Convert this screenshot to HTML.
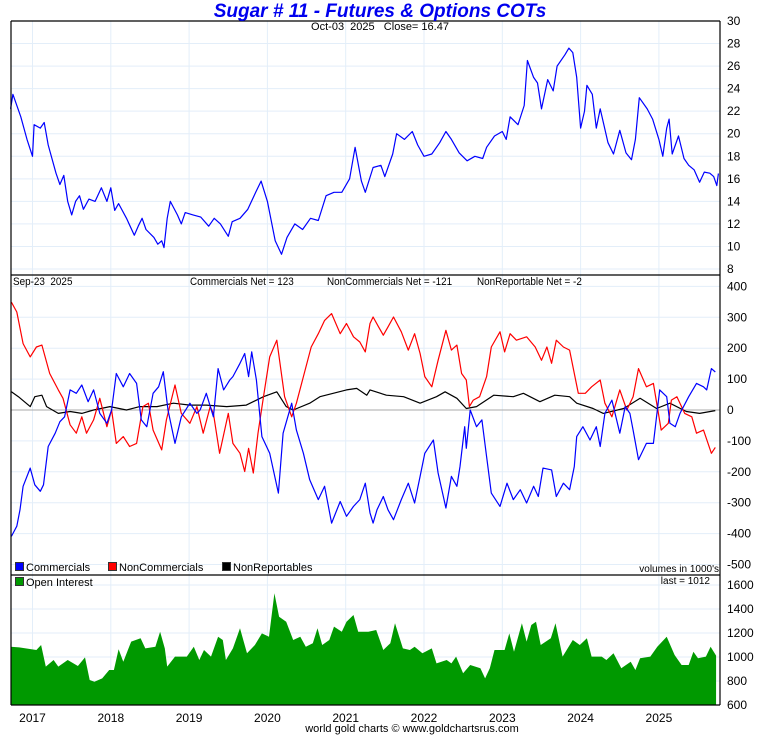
<!DOCTYPE html>
<html><head><meta charset="utf-8"><style>
html,body{margin:0;padding:0;background:#fff;}
svg{display:block;font-family:"Liberation Sans Narrow","Liberation Sans",sans-serif;}
.n{transform:scaleX(0.9);transform-origin:left top;white-space:pre;}
</style></head><body>
<svg id="c" width="760" height="735" viewBox="0 0 760 735"></svg>
<script>
const priceYears=[2016.72,2016.75,2016.85,2016.93,2017.0,2017.02,2017.1,2017.15,2017.2,2017.3,2017.35,2017.4,2017.45,2017.5,2017.55,2017.6,2017.65,2017.72,2017.8,2017.88,2017.95,2018.0,2018.05,2018.1,2018.2,2018.3,2018.35,2018.4,2018.45,2018.55,2018.6,2018.65,2018.68,2018.72,2018.76,2018.85,2018.9,2018.95,2019.05,2019.15,2019.25,2019.32,2019.4,2019.5,2019.55,2019.65,2019.75,2019.85,2019.92,2020.0,2020.1,2020.18,2020.25,2020.35,2020.45,2020.55,2020.65,2020.75,2020.85,2020.95,2021.05,2021.12,2021.2,2021.25,2021.35,2021.45,2021.5,2021.6,2021.65,2021.75,2021.85,2021.92,2022.0,2022.1,2022.2,2022.28,2022.35,2022.45,2022.55,2022.65,2022.75,2022.8,2022.9,2023.0,2023.05,2023.1,2023.2,2023.28,2023.32,2023.4,2023.45,2023.5,2023.58,2023.65,2023.7,2023.8,2023.85,2023.9,2023.95,2024.0,2024.05,2024.08,2024.15,2024.2,2024.25,2024.35,2024.42,2024.5,2024.58,2024.65,2024.7,2024.75,2024.85,2024.92,2025.0,2025.05,2025.1,2025.13,2025.17,2025.25,2025.32,2025.38,2025.45,2025.52,2025.58,2025.65,2025.7,2025.74,2025.76];
const priceValues=[22.2,23.5,21.5,19.5,18,20.8,20.5,21,19,16.5,15.5,16.3,14,12.8,14,14.5,13.3,14.2,14,15.2,14,15.2,13.2,13.8,12.5,11,11.8,12.5,11.5,10.8,10.2,10.5,9.9,12.5,14,12.8,12,13,12.8,12.6,11.8,12.5,12,10.9,12.2,12.5,13.3,14.8,15.8,14,10.5,9.3,10.8,12,11.5,12.5,12.3,14.5,14.8,14.8,16,18.8,15.8,14.8,17,17.2,16.2,18.2,20,19.5,20.2,19,18,18.2,19.2,20.2,19.5,18.3,17.6,18,17.8,18.8,19.8,20.2,19.5,21.5,20.8,22.5,26.5,25,24.5,22.2,24.8,23.8,26,27,27.6,27.2,25,20.5,22,24.3,23.5,20.5,22.2,19.2,18.2,20.3,18.3,17.7,19.5,23.2,22.2,21.3,19.5,18,20.5,21.3,18.2,19.8,17.8,17.2,16.8,15.7,16.6,16.5,16.2,15.4,16.47];
const priceTicks=[8,10,12,14,16,18,20,22,24,26,28,30];

const commYears=[2016.73,2016.80,2016.84,2016.88,2016.97,2017.03,2017.10,2017.14,2017.20,2017.29,2017.35,2017.41,2017.48,2017.56,2017.63,2017.71,2017.78,2017.86,2017.95,2018.01,2018.07,2018.16,2018.24,2018.33,2018.39,2018.46,2018.54,2018.61,2018.67,2018.73,2018.82,2018.90,2019.01,2019.10,2019.14,2019.22,2019.31,2019.37,2019.44,2019.52,2019.56,2019.65,2019.71,2019.76,2019.80,2019.86,2019.93,2020.03,2020.14,2020.20,2020.31,2020.37,2020.46,2020.54,2020.65,2020.73,2020.82,2020.93,2021.01,2021.10,2021.18,2021.25,2021.31,2021.35,2021.40,2021.48,2021.54,2021.61,2021.71,2021.80,2021.88,2021.95,2022.01,2022.12,2022.18,2022.28,2022.35,2022.42,2022.46,2022.52,2022.54,2022.59,2022.67,2022.74,2022.80,2022.86,2022.97,2023.06,2023.14,2023.23,2023.31,2023.40,2023.46,2023.52,2023.63,2023.69,2023.78,2023.86,2023.92,2023.95,2024.03,2024.12,2024.20,2024.25,2024.31,2024.40,2024.50,2024.57,2024.63,2024.67,2024.74,2024.84,2024.93,2025.01,2025.10,2025.14,2025.21,2025.27,2025.38,2025.48,2025.57,2025.61,2025.67,2025.72];
const commValues=[-409,-376,-323,-247,-188,-242,-263,-242,-118,-75,-38,-22,65,54,81,27,65,-11,-43,0,118,75,118,86,-32,-54,54,75,124,0,-108,-22,22,-11,0,54,-22,134,65,97,108,151,183,108,188,97,-86,-140,-269,-75,22,-65,-140,-226,-290,-247,-366,-296,-344,-312,-290,-237,-333,-366,-323,-280,-323,-355,-290,-237,-301,-215,-140,-97,-204,-317,-215,-247,-183,-54,-124,0,-54,-32,-151,-269,-312,-237,-290,-258,-301,-247,-280,-188,-194,-280,-237,-258,-183,-86,-54,-97,-54,-118,-11,32,-75,11,-11,-65,-161,-108,-108,65,43,-43,-54,-11,43,86,75,65,134,123];

const nonCommYears=[2016.73,2016.80,2016.88,2016.97,2017.05,2017.12,2017.22,2017.33,2017.39,2017.48,2017.56,2017.63,2017.69,2017.78,2017.86,2017.95,2018.01,2018.07,2018.16,2018.24,2018.33,2018.41,2018.48,2018.54,2018.65,2018.71,2018.82,2018.90,2019.01,2019.10,2019.18,2019.27,2019.31,2019.39,2019.50,2019.56,2019.65,2019.71,2019.76,2019.82,2019.88,2019.95,2020.03,2020.12,2020.22,2020.31,2020.37,2020.46,2020.56,2020.65,2020.73,2020.82,2020.93,2021.01,2021.10,2021.18,2021.25,2021.31,2021.35,2021.42,2021.48,2021.54,2021.61,2021.71,2021.80,2021.88,2021.95,2022.01,2022.10,2022.18,2022.28,2022.35,2022.42,2022.48,2022.54,2022.58,2022.63,2022.71,2022.80,2022.86,2022.97,2023.03,2023.10,2023.18,2023.31,2023.42,2023.50,2023.57,2023.63,2023.69,2023.78,2023.86,2023.97,2024.06,2024.14,2024.25,2024.31,2024.40,2024.50,2024.59,2024.67,2024.74,2024.84,2024.93,2025.03,2025.12,2025.16,2025.23,2025.33,2025.42,2025.48,2025.57,2025.67,2025.72];
const nonCommValues=[349,317,215,172,204,210,118,65,38,-48,-75,-22,-75,-32,38,-54,0,-108,-86,-118,-108,11,22,-65,-129,-32,81,-11,-43,11,-75,11,-11,-140,-11,-108,-140,-199,-124,-204,-75,43,172,226,43,-22,22,108,204,247,290,312,247,280,237,220,188,280,301,269,242,269,301,253,194,247,183,108,75,161,258,194,210,118,97,11,32,43,108,204,253,188,247,226,237,204,161,204,151,226,204,194,54,54,75,97,22,-22,65,0,43,134,75,86,-65,-43,32,43,-11,-22,-75,-65,-140,-121];

const nonRepYears=[2016.73,2016.82,2016.97,2017.03,2017.12,2017.18,2017.33,2017.48,2017.63,2017.78,2017.99,2018.20,2018.37,2018.59,2018.80,2019.01,2019.22,2019.48,2019.73,2019.95,2020.12,2020.24,2020.33,2020.54,2020.67,2020.84,2021.01,2021.14,2021.27,2021.31,2021.52,2021.74,2021.95,2022.16,2022.27,2022.42,2022.54,2022.67,2022.89,2023.14,2023.27,2023.48,2023.67,2023.86,2023.95,2024.16,2024.29,2024.55,2024.76,2024.97,2025.14,2025.35,2025.52,2025.72];
const nonRepValues=[59,43,11,43,48,11,-11,-5,-11,0,11,0,11,11,22,16,16,11,16,43,59,11,0,22,43,54,65,70,48,65,48,43,22,43,59,38,5,11,48,43,54,27,48,43,22,5,-11,5,38,5,22,-5,-11,-2];
const cotTicks=[-500,-400,-300,-200,-100,0,100,200,300,400];

const oiYears=[2016.72,2016.83,2017.05,2017.11,2017.17,2017.27,2017.33,2017.45,2017.58,2017.67,2017.73,2017.79,2017.89,2017.98,2018.04,2018.10,2018.16,2018.26,2018.38,2018.44,2018.57,2018.63,2018.69,2018.72,2018.82,2018.97,2019.06,2019.13,2019.19,2019.28,2019.37,2019.43,2019.47,2019.56,2019.65,2019.74,2019.84,2019.93,2020.02,2020.09,2020.15,2020.24,2020.33,2020.42,2020.49,2020.58,2020.64,2020.70,2020.79,2020.85,2020.95,2021.01,2021.10,2021.16,2021.29,2021.39,2021.48,2021.57,2021.63,2021.73,2021.82,2021.88,2021.98,2022.10,2022.16,2022.29,2022.35,2022.41,2022.50,2022.59,2022.72,2022.78,2022.84,2022.90,2023.03,2023.09,2023.15,2023.25,2023.31,2023.37,2023.43,2023.49,2023.62,2023.68,2023.77,2023.90,2023.99,2024.08,2024.14,2024.27,2024.33,2024.42,2024.52,2024.64,2024.70,2024.76,2024.89,2024.98,2025.10,2025.20,2025.29,2025.38,2025.44,2025.50,2025.60,2025.66,2025.73];
const oiValues=[1086,1080,1058,1100,920,975,920,975,925,997,808,794,822,892,892,1064,961,1128,1156,1072,1086,1211,1072,920,1003,1003,1086,975,1058,1003,1169,1142,975,1072,1239,1031,1100,1197,1169,1531,1336,1294,1142,1169,1086,1114,1239,1100,1142,1253,1211,1294,1350,1211,1211,1225,1058,1114,1281,1072,1058,1086,1031,1072,947,975,947,1003,864,933,906,822,906,1058,1058,1197,1044,1281,1128,1267,1294,1100,1156,1281,1003,1142,1100,1156,1003,1003,975,1031,906,961,892,989,1003,1086,1169,1017,933,933,1044,989,1003,1086,1012];
const oiTicks=[600,800,1000,1200,1400,1600];
const yearLabels=[2017,2018,2019,2020,2021,2022,2023,2024,2025];

const NS="http://www.w3.org/2000/svg";
const svg=document.getElementById('c');
function el(t,a,txt){const e=document.createElementNS(NS,t);for(const k in a)e.setAttribute(k,a[k]);if(txt!=null)e.textContent=txt;svg.appendChild(e);return e;}
const L=11,R=720;
const xs=y=>32.5+(y-2017)*78.3;
const yP=v=>21+(30-v)*(248/22);
const yC=v=>410-v*0.309;
const yO=v=>705-(v-600)*0.12;

yearLabels.forEach(y=>{const g=el('line',{x1:xs(y),x2:xs(y),y1:21,y2:705,stroke:'#e3eef9','stroke-width':1});
});
priceTicks.forEach(v=>{const g=el('line',{x1:L,x2:R,y1:yP(v),y2:yP(v),stroke:'#e3eef9'});
const t=el('text',{x:727,y:yP(v)+4,'font-size':12},v);});
cotTicks.forEach(v=>{const g=el('line',{x1:L,x2:R,y1:yC(v),y2:yC(v),stroke:'#e3eef9'});
const t=el('text',{x:727,y:yC(v)+4,'font-size':12},v);});
oiTicks.forEach(v=>{const g=el('line',{x1:L,x2:R,y1:yO(v),y2:yO(v),stroke:'#e3eef9'});
const t=el('text',{x:727,y:yO(v)+4,'font-size':12},v);});
yearLabels.forEach(y=>{const t=el('text',{x:xs(y),y:722,'font-size':12,'text-anchor':'middle'},y);});

const z=el('line',{x1:L,x2:R,y1:yC(0),y2:yC(0),stroke:'#aaa'});

let d=`M${xs(oiYears[0])},705`;oiYears.forEach((y,i)=>d+=`L${xs(y).toFixed(1)},${yO(oiValues[i]).toFixed(1)}`);d+=`L${xs(oiYears[oiYears.length-1])},705Z`;
const oa=el('path',{d:d,fill:'#009900'});

function line(ys,vs,fy,col,name){const p=el('polyline',{points:ys.map((y,i)=>xs(y).toFixed(1)+','+fy(vs[i]).toFixed(1)).join(' '),fill:'none',stroke:col,'stroke-width':1.2,'stroke-linejoin':'round'});
}
line(priceYears,priceValues,yP,'#0000ff','price-line');
line(nonRepYears,nonRepValues,yC,'#000','nonreportables-line');
line(nonCommYears,nonCommValues,yC,'#ff0000','noncommercials-line');
line(commYears,commValues,yC,'#0000ff','commercials-line');

[[L,21,R,21],[L,21,L,705],[R,21,R,705],[L,275,R,275],[L,575,R,575],[L,705,R,705]].forEach(a=>{const f=el('line',{x1:a[0],y1:a[1],x2:a[2],y2:a[3],stroke:'#000','stroke-width':1.2});});
</script>
<div style="position:absolute;left:0;top:0;width:760px;height:735px;pointer-events:none;font-family:'Liberation Sans Narrow','Liberation Sans',sans-serif;">
<div style="position:absolute;left:0;width:760px;top:1px;text-align:center;font:italic bold 19px 'Liberation Sans',sans-serif;color:#0000ee;">Sugar # 11 - Futures &amp; Options COTs</div>
<div style="position:absolute;left:0;width:760px;top:21px;text-align:center;font-size:11px;white-space:pre;">Oct-03  2025   Close= 16.47</div>
<div class="n" style="position:absolute;left:13px;top:276px;font-size:11px;">Sep-23  2025</div>
<div class="n" style="position:absolute;left:190px;top:276px;font-size:11px;">Commercials Net = 123</div>
<div class="n" style="position:absolute;left:327px;top:276px;font-size:11px;">NonCommercials Net = -121</div>
<div class="n" style="position:absolute;left:477px;top:276px;font-size:11px;">NonReportable Net = -2</div>
<div style="position:absolute;left:15px;top:562px;font-size:11px;"><span style="display:inline-block;width:7px;height:7px;background:#00f;border:1px solid #333;margin-right:2px;"></span>Commercials</div>
<div style="position:absolute;left:108px;top:562px;font-size:11px;"><span style="display:inline-block;width:7px;height:7px;background:#f00;border:1px solid #333;margin-right:2px;"></span>NonCommercials</div>
<div style="position:absolute;left:222px;top:562px;font-size:11px;"><span style="display:inline-block;width:7px;height:7px;background:#000;border:1px solid #333;margin-right:2px;"></span>NonReportables</div>
<div style="position:absolute;right:41px;top:564px;font-size:10px;">volumes in 1000's</div>
<div style="position:absolute;left:15px;top:577px;font-size:11px;"><span style="display:inline-block;width:7px;height:7px;background:#090;border:1px solid #333;margin-right:2px;"></span>Open Interest</div>
<div style="position:absolute;right:50px;top:576px;font-size:10px;">last = 1012</div>
<div style="position:absolute;left:0;width:824px;top:723px;text-align:center;font-size:11px;">world gold charts © www.goldchartsrus.com</div>
</div>
</body></html>
